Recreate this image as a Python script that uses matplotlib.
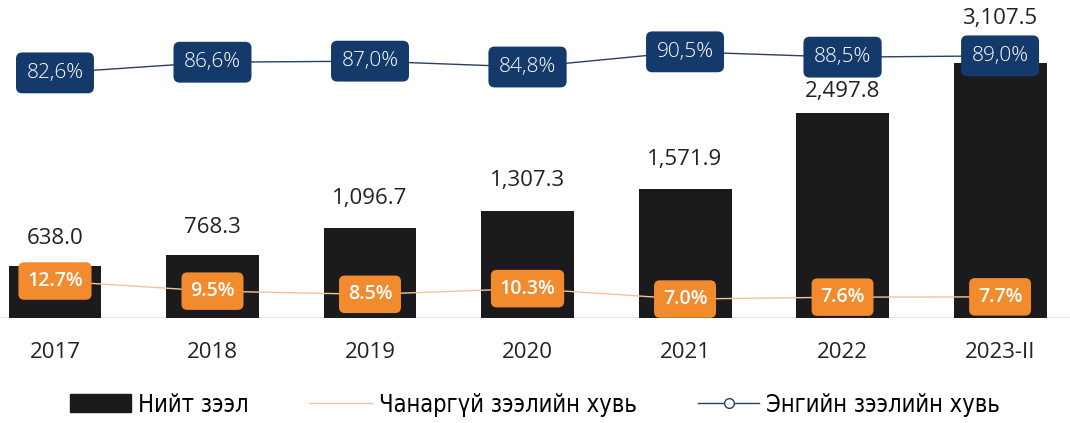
import matplotlib.pyplot as plt
from matplotlib.patches import Patch
from matplotlib.lines import Line2D

years = ['2017', '2018', '2019', '2020', '2021', '2022', '2023-II']
total_loans = [638.0, 768.3, 1096.7, 1307.3, 1571.9, 2497.8, 3107.5]
npl_share = [12.7, 9.5, 8.5, 10.3, 7.0, 7.6, 7.7]
normal_share = [82.6, 86.6, 87.0, 84.8, 90.5, 88.5, 89.0]

plt.rcParams['font.family'] = ['Open Sans', 'DejaVu Sans']

bar_color = '#1b1b1d'
orange = '#f28a2e'
navy = '#143a6b'

fig = plt.figure(figsize=(10.7, 4.23), dpi=100)
ax = fig.add_axes([0, 0.248, 1, 0.705])
x = list(range(len(years)))

ax.bar(x, total_loans, width=0.59, color=bar_color, zorder=2)
ax.axhline(0, color='#e2e2e2', lw=1.2, zorder=1)
ax.set_xlim(-0.349, 6.444)
ax.set_ylim(0, 3630)
# last label lifted so it clears the percentage box sitting on the bar
label_pad = [12, 12, 14, 14, 14, 8, 24]
for i, v in enumerate(total_loans):
    ax.annotate(f'{v:,.1f}', (i, v), xytext=(0, label_pad[i]),
                textcoords='offset points', ha='center', va='bottom',
                fontsize=16, color='#222222')
for i, lab in enumerate(years):
    ax.annotate(lab, (i, 0), xytext=(0, -25), textcoords='offset points',
                ha='center', va='center', fontsize=16, color='#222222')
ax.axis('off')

# non-performing loan share, own hidden scale
ax_npl = ax.twinx()
ax_npl.set_ylim(0.98, 95.3)
ax_npl.plot(x, npl_share, color='#f3c49b', lw=1, zorder=3)
for i, v in enumerate(npl_share):
    ax_npl.text(i, v, f'{v:.1f}%', ha='center', va='center', fontsize=14,
                color='white', fontweight='semibold', zorder=4,
                bbox=dict(boxstyle='round,pad=0.45,rounding_size=0.3',
                          fc=orange, ec='none'))
ax_npl.axis('off')

# normal loan share, own hidden scale
ax_nrm = ax.twinx()
ax_nrm.set_ylim(-9.5, 102.5)
ax_nrm.plot(x, normal_share, color='#2b3f63', lw=1, zorder=3)
for i, v in enumerate(normal_share):
    ax_nrm.text(i, v, f'{v:.1f}%'.replace('.', ','), ha='center', va='center',
                fontsize=15, color='white', fontweight='light', zorder=4,
                bbox=dict(boxstyle='round,pad=0.5,rounding_size=0.3',
                          fc=navy, ec='none'))
ax_nrm.axis('off')

handles = [
    Patch(color=bar_color),
    Line2D([], [], color='#f3c49b', lw=1),
    Line2D([], [], color='#2b3f63', lw=1, marker='o', mfc='white', ms=7),
]
labels = ['Нийт зээл', 'Чанаргүй зээлийн хувь', 'Энгийн зээлийн хувь']
fig.legend(handles, labels, loc='lower center', bbox_to_anchor=(0.5, -0.035),
           ncol=3, frameon=False, handlelength=2.6, handleheight=0.8,
           columnspacing=2.6, handletextpad=0.3,
           prop={'family': ['DejaVu Sans'], 'stretch': 'condensed', 'size': 17})

fig.savefig('out.png', dpi=100)
